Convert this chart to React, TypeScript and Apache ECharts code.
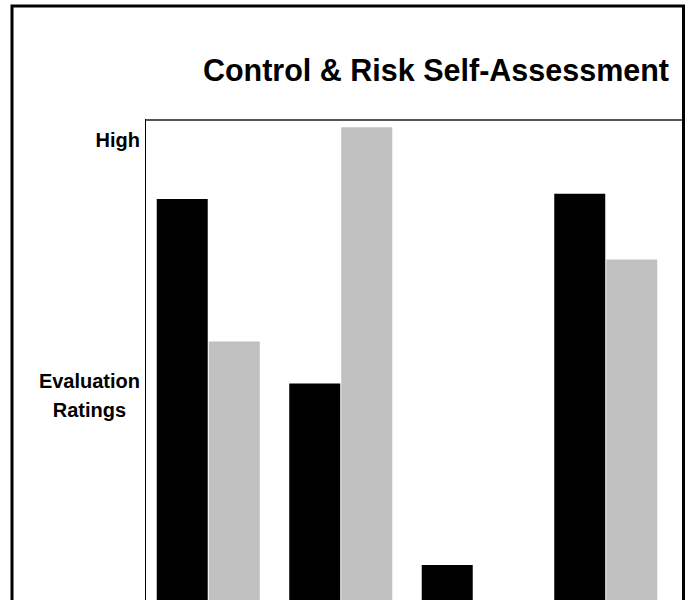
import React, { useEffect, useRef } from "react";
import * as echarts from "echarts";

const categories = ["Area 1", "Area 2", "Area 3", "Area 4"];
const seriesA = [4.42, 2.62, 0.85, 4.47];
const seriesB = [3.03, 5.12, 0, 3.83];
const yLabels: Record<string, string> = { "5": "High", "2.5": "{c|Evaluation}\n{c|Ratings}" };
const titleText = "Control & Risk Self-Assessment";

export default function App() {
  const ref = useRef<HTMLDivElement>(null);
  useEffect(() => {
    if (!ref.current) return;
    const chart = echarts.init(ref.current, null, { renderer: "svg" });
    const font = "'Liberation Sans', Arial, Helvetica, sans-serif";
    chart.setOption({
      animation: false,
      backgroundColor: "#ffffff",
      title: {
        text: titleText,
        right: 16,
        top: 49,
        textStyle: { fontFamily: font, fontWeight: "bold", fontSize: 30.5, color: "#000" },
      },
      grid: { left: 142, top: 119, width: 530, height: 533, containLabel: false, outerBoundsMode: "none" },
      xAxis: {
        type: "category",
        data: categories,
        axisLine: { show: false },
        axisTick: { show: false },
        axisLabel: { show: false },
      },
      yAxis: {
        type: "value",
        min: 0,
        max: 5.2,
        interval: 2.5,
        axisLine: { show: false },
        axisTick: { show: false },
        splitLine: { show: false },
        axisLabel: {
          showMaxLabel: false,
          margin: 2,
          fontFamily: font,
          fontWeight: "bold",
          fontSize: 20,
          color: "#000",
          lineHeight: 29,
          rich: { c: { align: "center", fontFamily: font, fontWeight: "bold", fontSize: 20, color: "#000", lineHeight: 29 } },
          formatter: (v: number) => yLabels[String(v)] ?? "",
        },
      },
      series: [
        { type: "bar", data: seriesA, barWidth: 51, barGap: "2%", itemStyle: { color: "#000000" } },
        { type: "bar", data: seriesB, barWidth: 51, barGap: "2%", itemStyle: { color: "#C0C0C0" } },
      ],
      graphic: [
        { type: "line", shape: { x1: 145, y1: 120, x2: 684, y2: 120 }, style: { stroke: "#555", lineWidth: 2 }, z: 10 },
        { type: "line", shape: { x1: 145.5, y1: 119, x2: 145.5, y2: 700 }, style: { stroke: "#000", lineWidth: 1 }, z: 10 },
        { type: "rect", shape: { x: 12, y: 6, width: 671.5, height: 800 }, style: { fill: "none", stroke: "#000", lineWidth: 3 }, z: 11 },
      ],
    });
    return () => chart.dispose();
  }, []);
  return <div ref={ref} style={{ position: "fixed", left: 0, top: 0, width: 690, height: 600 }} />;
}
